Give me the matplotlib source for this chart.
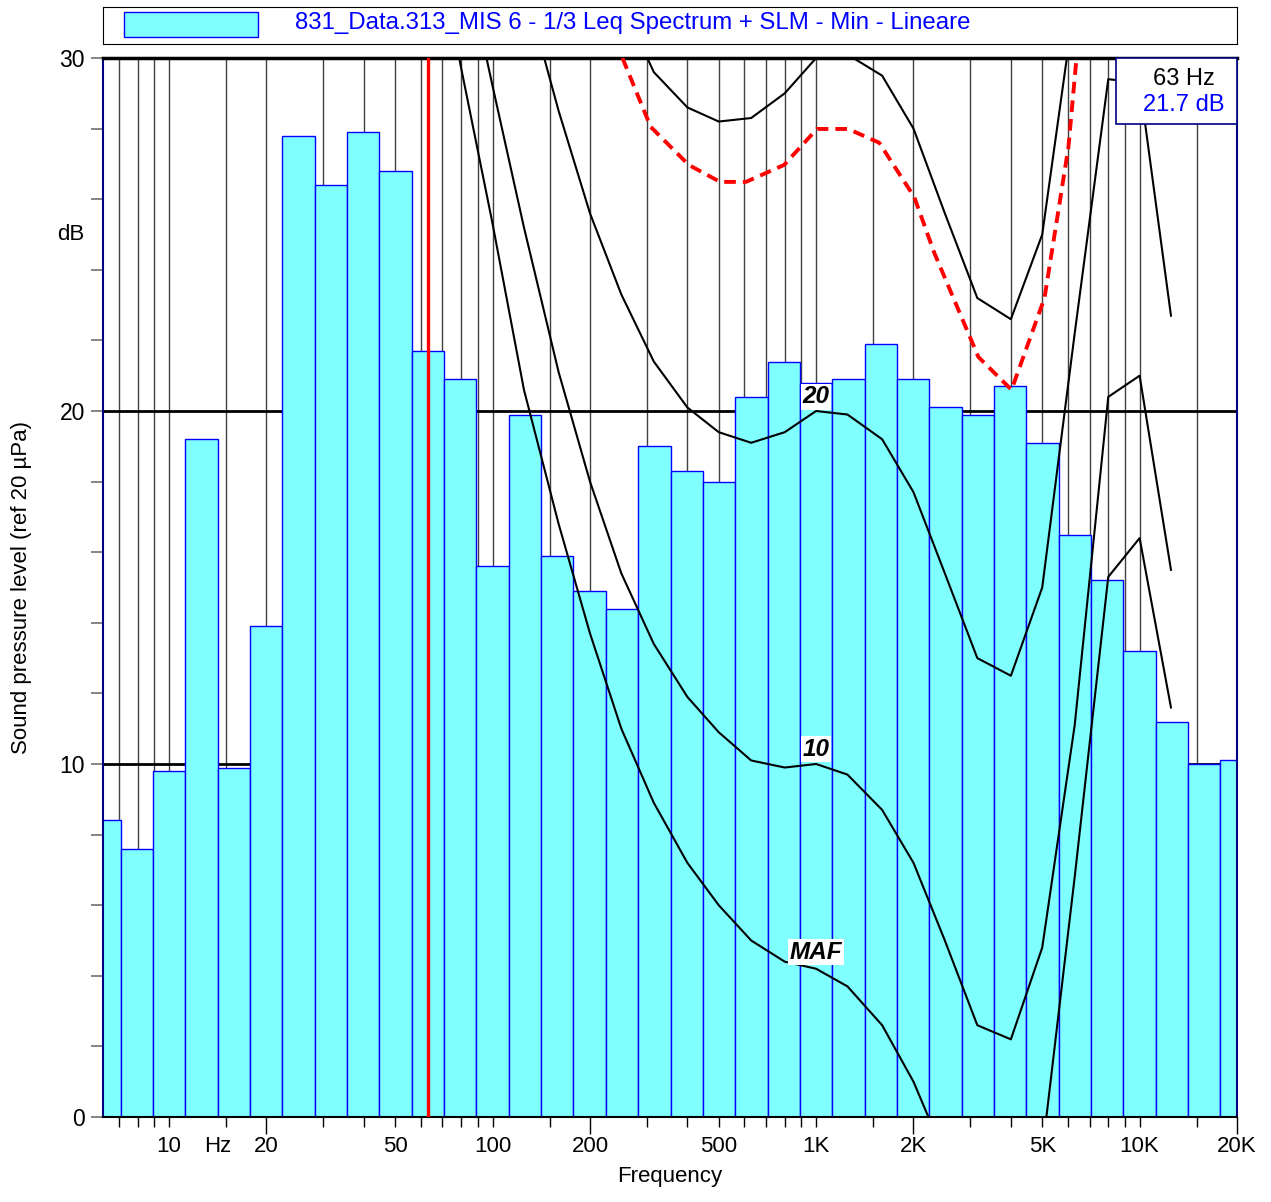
import matplotlib.pyplot as plt
import matplotlib.transforms as mtransforms
from matplotlib.patches import Rectangle
import numpy as np

plt.rcParams['font.family'] = ['Liberation Sans', 'DejaVu Sans']

# 1/3 octave spectrum, bands 6.3 Hz .. 20 kHz (band number k -> 10^(k/10) Hz)
band_k = np.arange(8, 44)
levels = [8.4, 7.6, 9.8, 19.2, 9.9, 13.9, 27.8, 26.4, 27.9, 26.8,
          21.7, 20.9, 15.6, 19.9, 15.9, 14.9, 14.4, 19.0, 18.3, 18.0,
          20.4, 21.4, 20.8, 20.9, 21.9, 20.9, 20.1, 19.9, 20.7, 19.1,
          16.5, 15.2, 13.2, 11.2, 10.0, 10.1]

# equal loudness curves
maf_f = [63, 80, 100, 125, 160, 200, 250, 315, 400, 500, 630, 800, 1000, 1250,
         1600, 2000, 2500, 3150, 4000, 5000, 6300, 8000, 10000, 12500]
maf_db = [34.6, 29.7, 25.3, 20.6, 16.8, 13.7, 11.0, 8.9, 7.2, 6.0, 5.0, 4.4, 4.2, 3.7,
          2.6, 1.0, -1.1, -3.0, -3.5, -1.0, 6.8, 15.3, 16.4, 11.6]

p10_f = [80, 100, 125, 160, 200, 250, 315, 400, 500, 630, 800, 1000, 1250,
         1600, 2000, 2500, 3150, 4000, 5000, 6300, 8000, 10000, 12500]
p10_db = [33.3, 29.2, 25.2, 21.1, 18.0, 15.4, 13.4, 11.9, 10.9, 10.1, 9.9, 10.0, 9.7,
          8.7, 7.2, 5.0, 2.6, 2.2, 4.8, 11.1, 20.4, 21.0, 15.5]

p20_f = [125, 160, 200, 250, 315, 400, 500, 630, 800, 1000, 1250,
         1600, 2000, 2500, 3150, 4000, 5000, 6300, 8000, 10000, 12500]
p20_db = [32.1, 28.5, 25.6, 23.3, 21.4, 20.1, 19.4, 19.1, 19.4, 20.0, 19.9,
          19.2, 17.7, 15.4, 13.0, 12.5, 15.0, 22.2, 29.4, 29.3, 22.7]

p30_f = [250, 315, 400, 500, 630, 800, 1000, 1250, 1600, 2000, 2500, 3150, 4000, 5000, 6300]
p30_db = [31.6, 29.6, 28.6, 28.2, 28.3, 29.0, 30.0, 30.1, 29.5, 28.0, 25.6, 23.2, 22.6, 25.0, 31.6]

red_f = [252, 308, 404, 505, 607, 796, 1006, 1256, 1567, 2011, 2319, 3174, 4018, 5081, 6026, 6380]
red_db = [30.0, 28.05, 26.97, 26.49, 26.49, 26.97, 27.99, 27.99, 27.6, 26.06, 24.48, 21.53,
          20.6, 23.2, 27.48, 30.0]

xtick_pos = [10, 14.1, 20, 50, 100, 200, 500, 1000, 2000, 5000, 10000, 20000]
xtick_txt = ['10', 'Hz', '20', '50', '100', '200', '500', '1K', '2K', '5K', '10K', '20K']

W, H = 1271, 1202
fig = plt.figure(figsize=(W / 100, H / 100), dpi=100)
ax = fig.add_axes([103 / W, 1 - 1117 / H, 1134 / W, 1059 / H])
ax.set_xscale('log')
ax.set_xlim(6.247, 20000)
ax.set_ylim(0, 30)

# grid
grid_f = [m * 10 ** n for n in range(0, 5) for m in (1, 1.5, 2, 3, 4, 5, 6, 7, 8, 9)]
grid_f = [g for g in grid_f if 6.3 < g < 20000]
ax.vlines(grid_f, 0, 30, color='#404040', lw=1.0, zorder=1)
ax.hlines([10, 20], 6.247, 20000, color='black', lw=2, zorder=1.5)

centers = 10 ** (band_k / 10)
lo = centers * 10 ** -0.05
hi = centers * 10 ** 0.05
ax.bar(lo, levels, width=hi - lo, align='edge', color='#80ffff',
       edgecolor='#0000ff', lw=1, zorder=2)

ax.axvline(63, color='red', lw=2.4, zorder=3)

for f, db in [(maf_f, maf_db), (p10_f, p10_db), (p20_f, p20_db), (p30_f, p30_db)]:
    ax.plot(f, db, color='black', lw=1.5, zorder=4)
ax.plot(red_f, red_db, color='red', lw=2.8, ls=(0, (3, 1.8)), zorder=4)

for txt, y in [('20', 20.4), ('10', 10.42), ('MAF', 4.67)]:
    ax.text(1000, y, txt, fontsize=17.5, fontweight='bold', style='italic',
            ha='center', va='center', zorder=5,
            bbox=dict(facecolor='white', edgecolor='none', pad=1.2))

# ticks
ax.set_xticks([20, 200, 2000, 20000])
ax.set_xticks([g for g in grid_f if g not in (20, 200, 2000)], minor=True)
ax.set_xticklabels([])
ax.set_xticklabels([], minor=True)
ax.tick_params(axis='x', which='major', direction='out', length=12, width=1, color='black')
ax.tick_params(axis='x', which='minor', direction='out', length=7, width=1, color='black')
trans = mtransforms.blended_transform_factory(ax.transData, ax.transAxes)
for xp, t in zip(xtick_pos, xtick_txt):
    ax.text(xp, -30 / 1059, t, transform=trans, ha='center', va='center', fontsize=16)

ax.set_yticks(range(0, 31, 2))
ax.set_yticklabels([str(v) if v % 10 == 0 else '' for v in range(0, 31, 2)], fontsize=16.5)
ax.tick_params(axis='y', direction='out', length=9, width=1.2, color='#707070', pad=4)
ax.text(-32 / 1134, 25, 'dB', transform=mtransforms.blended_transform_factory(ax.transAxes, ax.transData),
        ha='center', va='center', fontsize=16)

ax.set_xlabel('Frequency', fontsize=16, labelpad=20)
ax.set_ylabel('Sound pressure level (ref 20 µPa)', fontsize=16, labelpad=20)

for s in ('left', 'right', 'bottom'):
    ax.spines[s].set_color('#000080')
    ax.spines[s].set_linewidth(1.5)
ax.spines['bottom'].set_color('black')
ax.spines['top'].set_color('black')
ax.spines['top'].set_linewidth(2.5)

# readout box
box = Rectangle((1116 / W, 1 - 124 / H), 121 / W, 66 / H, transform=fig.transFigure,
                facecolor='white', edgecolor='#000080', lw=1.2, zorder=10)
fig.patches.append(box)
fig.text(1184 / W, 1 - 79 / H, '63 Hz', ha='center', va='center', fontsize=17, color='black', zorder=11)
fig.text(1184 / W, 1 - 105 / H, '21.7 dB', ha='center', va='center', fontsize=17, color='#0000ff', zorder=11)

# legend strip
lax = fig.add_axes([103 / W, 1 - 44 / H, 1134 / W, 37 / H])
lax.set_xticks([])
lax.set_yticks([])
lax.set_xlim(0, 1134)
lax.set_ylim(37, 0)
lax.add_patch(Rectangle((21, 5), 134, 25, facecolor='#80ffff', edgecolor='#0000ff', lw=1))
lax.text(192, 16, '831_Data.313_MIS 6 - 1/3 Leq Spectrum + SLM - Min - Lineare',
         ha='left', va='center', fontsize=17.3, color='#0000ff')

fig.savefig('out.png', dpi=100)
